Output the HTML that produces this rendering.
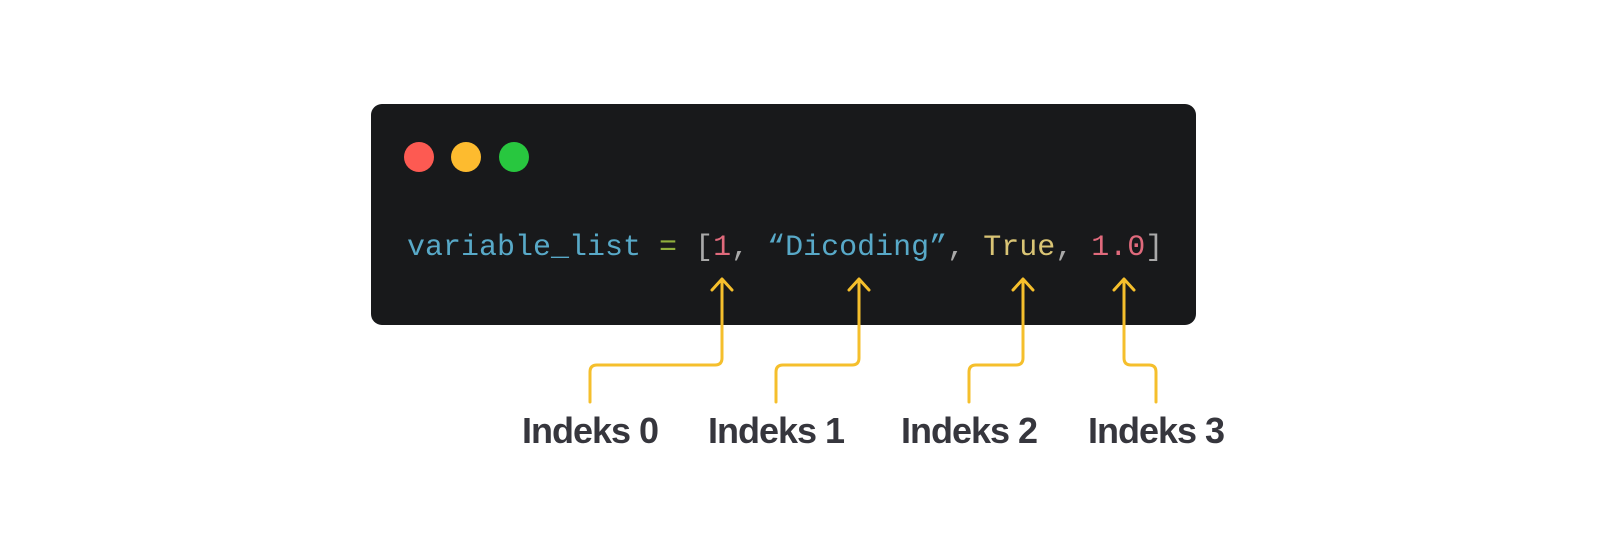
<!DOCTYPE html>
<html><head><meta charset="utf-8"><style>
html,body{margin:0;padding:0;background:#fff;width:1600px;height:559px;overflow:hidden;position:relative}
.box{position:absolute;left:371px;top:104px;width:825px;height:221px;background:#18191b;border-radius:11px}
.dot{position:absolute;top:142px;width:30px;height:30px;border-radius:50%}
.code{position:absolute;left:407px;top:228px;font-family:"Liberation Mono",monospace;font-size:30px;line-height:40px;white-space:pre;color:#58a9c8}
.lbl{position:absolute;top:410px;font-family:"Liberation Sans",sans-serif;font-weight:bold;font-size:36px;letter-spacing:-1px;color:#36363d;transform:translateX(-50%);white-space:nowrap}
</style></head><body>
<div class="box"></div>
<div class="dot" style="left:404px;background:#fd5a52"></div>
<div class="dot" style="left:451px;background:#fdbb2f"></div>
<div class="dot" style="left:499px;background:#28c73f"></div>
<div class="code">variable_list <span style="color:#8fae3c">=</span> <span style="color:#a9a9a9">[</span><span style="color:#e06a7c">1</span><span style="color:#a9a9a9">,</span> “Dicoding”<span style="color:#a9a9a9">,</span> <span style="color:#d9c475">True</span><span style="color:#a9a9a9">,</span> <span style="color:#e06a7c">1.0</span><span style="color:#a9a9a9">]</span></div>
<svg width="1600" height="559" style="position:absolute;left:0;top:0" fill="none" stroke="#f5bf2c" stroke-width="3" stroke-linecap="round" stroke-linejoin="round">
<path d="M722 280 V358 Q722 365 715 365 H597 Q590 365 590 372 V402"/>
<path d="M712 290 L722 279 L732 290"/>
<path d="M859 280 V358 Q859 365 852 365 H783 Q776 365 776 372 V402"/>
<path d="M849 290 L859 279 L869 290"/>
<path d="M1023 280 V358 Q1023 365 1016 365 H976 Q969 365 969 372 V402"/>
<path d="M1013 290 L1023 279 L1033 290"/>
<path d="M1124 280 V358 Q1124 365 1131 365 H1149 Q1156 365 1156 372 V402"/>
<path d="M1114 290 L1124 279 L1134 290"/>
</svg>
<div class="lbl" style="left:590px">Indeks 0</div>
<div class="lbl" style="left:776px">Indeks 1</div>
<div class="lbl" style="left:969px">Indeks 2</div>
<div class="lbl" style="left:1156px">Indeks 3</div>
</body></html>
